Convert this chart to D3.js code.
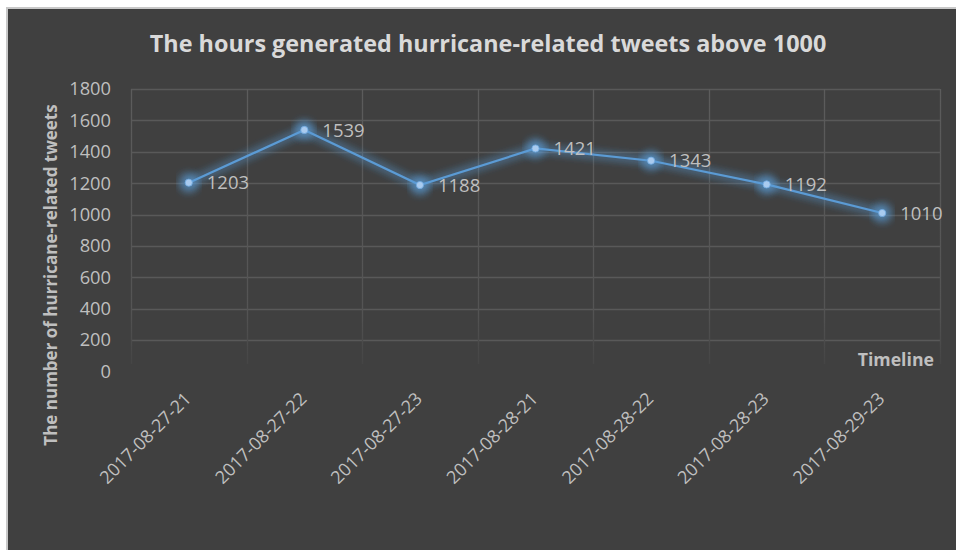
<!DOCTYPE html>
<html>
<head>
<meta charset="utf-8">
<script src="https://cdn.jsdelivr.net/npm/d3@7"></script>
<style>
  html, body { margin: 0; padding: 0; background: #ffffff; }
  svg { display: block; }
</style>
</head>
<body>
<svg id="chart" width="956" height="550"></svg>
<script>
// Hourly counts of hurricane-related tweets (hours above 1000)
const hours = ["2017-08-27-21", "2017-08-27-22", "2017-08-27-23", "2017-08-28-21",
               "2017-08-28-22", "2017-08-28-23", "2017-08-29-23"];
const tweetCounts = [1203, 1539, 1188, 1421, 1343, 1192, 1010];
const yTicks = [0, 200, 400, 600, 800, 1000, 1200, 1400, 1600, 1800];

const chartTitle = "The hours generated hurricane-related tweets above 1000";
const yTitle = "The number of hurricane-related tweets";
const xTitle = "Timeline";

const svg = d3.select("#chart");
const font = "'Open Sans', sans-serif";

// Panel background with a light frame
svg.append("rect").attr("x", 6).attr("y", 7).attr("width", 952).attr("height", 545)
  .attr("fill", "#c8c8c8");
svg.append("rect").attr("x", 8).attr("y", 9).attr("width", 950).attr("height", 545)
  .attr("fill", "#404040");

const plot = { left: 131, right: 940, top: 89, bottom: 371.5 };

const x = d3.scaleBand().domain(hours).range([plot.left, plot.right]).padding(0);
const y = d3.scaleLinear().domain([0, 1800]).range([plot.bottom, plot.top]);

const defs = svg.append("defs");
const fade = defs.append("linearGradient").attr("id", "vfade")
  .attr("gradientUnits", "userSpaceOnUse")
  .attr("x1", 0).attr("x2", 0).attr("y1", plot.top).attr("y2", 364);
fade.append("stop").attr("offset", "0").attr("stop-color", "#5c5c5c");
fade.append("stop").attr("offset", "0.8").attr("stop-color", "#545454");
fade.append("stop").attr("offset", "1").attr("stop-color", "#454545");

const glow = defs.append("filter").attr("id", "glow")
  .attr("x", "-20%").attr("y", "-50%").attr("width", "140%").attr("height", "200%");
glow.append("feGaussianBlur").attr("in", "SourceGraphic").attr("stdDeviation", 4).attr("result", "b");
const merge = glow.append("feMerge");
merge.append("feMergeNode").attr("in", "b");
merge.append("feMergeNode").attr("in", "b");

// Horizontal gridlines (the zero line is not drawn)
svg.append("g").selectAll("line")
  .data(yTicks.filter(t => t > 0))
  .join("line")
  .attr("x1", plot.left).attr("x2", plot.right)
  .attr("y1", d => Math.round(y(d)) + 0.5).attr("y2", d => Math.round(y(d)) + 0.5)
  .attr("stroke", "#595959").attr("stroke-width", 1.3);

// Vertical gridlines on category boundaries
const bounds = hours.map(h => x(h)).concat([plot.right]);
svg.append("g").selectAll("line")
  .data(bounds)
  .join("line")
  .attr("x1", d => Math.round(d) + 0.5).attr("x2", d => Math.round(d) + 0.5)
  .attr("y1", plot.top).attr("y2", 364)
  .attr("stroke", "url(#vfade)").attr("stroke-width", 1.3);

// Y axis tick labels
const yAxis = d3.axisLeft(y).tickValues(yTicks).tickFormat(d3.format("d"))
  .tickSize(0).tickPadding(20);
const gy = svg.append("g").attr("transform", `translate(${plot.left},0)`).call(yAxis);
gy.select(".domain").remove();
gy.selectAll("text").attr("fill", "#bfbfbf").attr("font-family", font).attr("font-size", 18.3);

// X axis labels, rotated
const xAxis = d3.axisBottom(x).tickSize(0).tickPadding(0);
const gx = svg.append("g").attr("transform", `translate(0,${plot.bottom})`).call(xAxis);
gx.select(".domain").remove();
gx.selectAll("text")
  .attr("fill", "#bfbfbf").attr("font-family", font).attr("font-size", 18)
  .attr("text-anchor", "end").attr("dy", "0.35em")
  .attr("transform", "translate(-1,24) rotate(-45)");

// Series line with soft glow
const line = d3.line().x((d, i) => x(hours[i]) + x.bandwidth() / 2).y(d => y(d));
svg.append("path").datum(tweetCounts).attr("d", line)
  .attr("fill", "none").attr("stroke", "#5b9bd5").attr("stroke-width", 6)
  .attr("stroke-opacity", 0.35).attr("filter", "url(#glow)");
svg.append("g").selectAll("circle").data(tweetCounts).join("circle")
  .attr("cx", (d, i) => x(hours[i]) + x.bandwidth() / 2).attr("cy", d => y(d))
  .attr("r", 9).attr("fill", "#5b9bd5").attr("fill-opacity", 0.45).attr("filter", "url(#glow)");
svg.append("path").datum(tweetCounts).attr("d", line)
  .attr("fill", "none").attr("stroke", "#5b9bd5").attr("stroke-width", 2.2);
svg.append("g").selectAll("circle").data(tweetCounts).join("circle")
  .attr("cx", (d, i) => x(hours[i]) + x.bandwidth() / 2).attr("cy", d => y(d))
  .attr("r", 3.6).attr("fill", "#a9cbef").attr("stroke", "#6fa8e0").attr("stroke-width", 0.8);

// Value labels
svg.append("g").selectAll("text").data(tweetCounts).join("text")
  .attr("x", (d, i) => x(hours[i]) + x.bandwidth() / 2 + 18).attr("y", d => y(d))
  .attr("dy", "0.36em")
  .attr("fill", "#bfbfbf").attr("font-family", font).attr("font-size", 18.5)
  .text(d => d);

// Titles
svg.append("text").attr("x", 488).attr("y", 52).attr("text-anchor", "middle")
  .attr("fill", "#d9d9d9").attr("font-family", font).attr("font-weight", "bold")
  .attr("font-size", 23.4).text(chartTitle);

svg.append("text").attr("transform", "translate(57,275) rotate(-90)")
  .attr("text-anchor", "middle")
  .attr("fill", "#bfbfbf").attr("font-family", font).attr("font-weight", "bold")
  .attr("font-size", 17).text(yTitle);

svg.append("text").attr("x", 934).attr("y", 366).attr("text-anchor", "end")
  .attr("fill", "#bfbfbf").attr("font-family", font).attr("font-weight", "bold")
  .attr("font-size", 17.7).text(xTitle);
</script>
</body>
</html>
